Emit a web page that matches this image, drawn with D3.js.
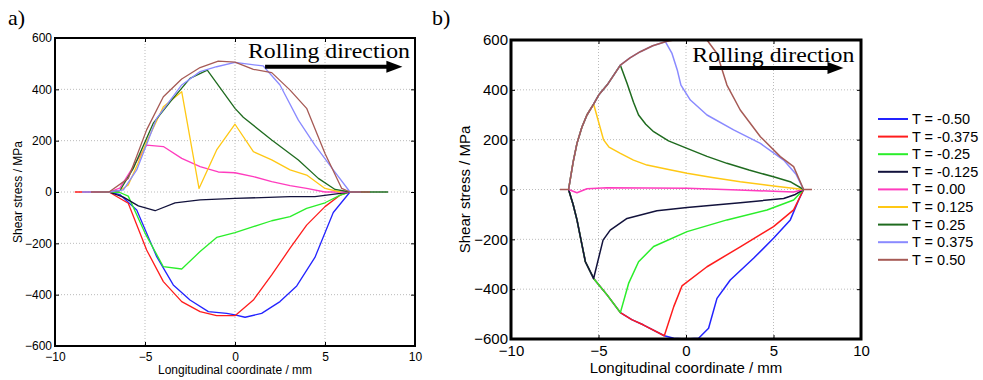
<!DOCTYPE html>
<html>
<head>
<meta charset="utf-8">
<script src="https://cdn.jsdelivr.net/npm/d3@7"></script>
<style>
  body { margin: 0; background: #fff; }
  svg { display: block; }
  .tick text { font-family: "Liberation Sans", Arial, sans-serif; fill: #000; }
</style>
</head>
<body>
<svg id="chart" width="983" height="380"></svg>
<script>
// legend / series labels
const seriesLabels = ['T = -0.50', 'T = -0.375', 'T = -0.25', 'T = -0.125', 'T = 0.00',
                      'T = 0.125', 'T = 0.25', 'T = 0.375', 'T = 0.50'];
const xTicks = [-10, -5, 0, 5, 10];
const yTicks = [-600, -400, -200, 0, 200, 400, 600];

// panel a) [longitudinal coordinate mm, shear stress MPa]
const aM050 = [[-7, 0], [-6.4, -10], [-5.46, -70], [-4.35, -252], [-3.43, -362], [-2.5, -421], [-1.48, -466],
  [-0.46, -473], [0, -479], [0.56, -488], [1.48, -473], [2.5, -427], [3.43, -366], [4.44, -255],
  [5.46, -80], [6.39, 0], [7.0, 0]];
const aM0375 = [[-8.9, 0], [-7, 0], [-5.93, -44], [-4.91, -226], [-3.98, -349], [-2.96, -427], [-1.94, -466],
  [-1.02, -482], [0, -482], [1.02, -421], [2.04, -323], [3.06, -219], [3.98, -129], [5.0, -57],
  [5.85, -12], [6.39, 0]];
const aM025 = [[-7.5, 0], [-7, 0], [-6.4, -2], [-5.93, -16], [-5.0, -160], [-3.98, -291], [-2.96, -300],
  [-1.94, -232], [-1.02, -177], [0, -158], [1.02, -135], [2.04, -112], [3.06, -96], [3.98, -64],
  [5.0, -42], [5.85, -12], [6.39, 0]];
const aM0125 = [[-7, 0], [-6.2, -20], [-5.37, -54], [-4.44, -73], [-3.33, -42], [-1.94, -31], [0, -25],
  [3.06, -18], [4.44, -18], [5.85, -5], [6.39, 0]];
const aP000 = [[-7, 0], [-6.4, 15], [-5.65, 99], [-4.91, 183], [-3.98, 177], [-2.96, 131], [-1.94, 99],
  [-0.93, 78], [0, 75], [1.02, 60], [2.04, 40], [3.06, 25], [3.98, 14], [5.0, 0], [6.39, 0]];
const aP0125 = [[-7, 0], [-6.4, 5], [-5.93, 27], [-5.4, 110], [-4.91, 195], [-3.98, 332], [-2.96, 391],
  [-2.0, 14], [-1.02, 164], [0, 264], [1.02, 157], [2.04, 125], [3.06, 86], [3.98, 66],
  [5.0, 14], [5.85, 0]];
const aP025 = [[-7, 0], [-6.4, 5], [-5.65, 92], [-4.54, 268], [-3.52, 358], [-2.5, 443], [-1.54, 475],
  [0, 326], [0.46, 291], [2.04, 203], [3.52, 125], [4.63, 53], [5.56, 10], [6.39, 0], [8.5, 0]];
const aP0375 = [[-8.5, 0], [-7, 0], [-6.2, 8], [-5.46, 86], [-4.35, 287], [-2.96, 417], [-1.94, 469],
  [-1.02, 488], [0, 505], [1.57, 491], [2.5, 417], [3.52, 280], [4.44, 183], [5.46, 86],
  [6.39, 0], [7.0, 0]];
const aP050 = [[-8.0, 0], [-7, 0], [-5.93, 53], [-4.91, 242], [-3.98, 371], [-2.96, 440], [-1.94, 485],
  [-0.93, 510], [0, 506], [1.02, 478], [2.04, 465], [3.06, 397], [3.98, 326], [5.0, 150],
  [5.93, 14], [6.39, 0], [7.5, 0]];

// panel b)
const bM050 = [[-6.71, 0], [-6.45, -60], [-6.23, -122], [-5.75, -290], [-5.28, -357], [-4.51, -423],
  [-3.75, -494], [-3.1, -522], [-2.42, -544], [-1.24, -587], [-0.7, -597], [0, -600], [0.72, -597],
  [1.29, -557], [1.77, -437], [2.53, -363], [3.86, -276], [5.0, -196], [5.96, -122], [6.44, -42], [6.72, 0]];
const bM0375 = [[-6.71, 0], [-6.45, -60], [-6.23, -122], [-5.75, -290], [-5.28, -357], [-4.51, -423],
  [-3.75, -494], [-3.1, -522], [-2.42, -544], [-1.24, -587], [-0.7, -470], [-0.23, -387], [1.2, -310],
  [3.1, -230], [5.0, -149], [6.15, -82], [6.72, 0]];
const bM025 = [[-6.71, 0], [-6.45, -60], [-6.23, -122], [-5.75, -290], [-5.28, -357], [-4.51, -423],
  [-3.75, -494], [-3.28, -377], [-2.71, -290], [-1.85, -229], [0.06, -169], [2.34, -122], [4.63, -82],
  [6.15, -42], [6.72, 0]];
const bM0125 = [[-6.71, 0], [-6.45, -60], [-6.23, -122], [-5.75, -290], [-5.28, -357], [-4.74, -203],
  [-4.33, -163], [-3.37, -116], [-1.66, -85], [0.06, -72], [3.1, -53], [5.58, -36], [6.25, -20], [6.72, 0]];
const bP000 = [[-6.71, 0], [-6.23, -13], [-5.66, 3], [-4.52, 7], [0.06, 5], [3.0, -2], [5.0, -7],
  [6.15, -10], [6.72, 0]];
const bP0125 = [[-6.71, 0], [-6.45, 110], [-6.23, 185], [-5.95, 250], [-5.66, 299], [-5.28, 343],
  [-4.71, 199], [-4.4, 170], [-3.75, 145], [-3.0, 118], [-2.23, 98], [-1.0, 80], [0.06, 65], [1.5, 48],
  [3.1, 31], [5.0, 14], [6.72, 0]];
const bP025 = [[-6.71, 0], [-6.45, 110], [-6.23, 185], [-5.95, 250], [-5.66, 299], [-5.28, 343],
  [-4.99, 379], [-4.5, 420], [-3.75, 499], [-3.37, 426], [-3.0, 350], [-2.71, 299], [-2.3, 262],
  [-1.85, 232], [-1.0, 195], [0.06, 165], [1.2, 133], [2.34, 105], [3.6, 78], [5.0, 51], [6.0, 30], [6.72, 0]];
const bP0375 = [[-6.71, 0], [-6.45, 110], [-6.23, 185], [-5.95, 250], [-5.66, 299], [-5.28, 343],
  [-4.99, 379], [-4.5, 420], [-3.75, 499], [-3.2, 528], [-2.61, 553], [-1.9, 577], [-1.18, 593],
  [-0.8, 546], [-0.5, 480], [-0.29, 419], [0.25, 359], [1.2, 299], [2.72, 239], [4.25, 185],
  [5.58, 118], [6.3, 60], [6.72, 0]];
const bP050 = [[-7.2, 0], [-6.71, 0], [-6.45, 110], [-6.23, 185], [-5.95, 250], [-5.66, 299], [-5.28, 343],
  [-4.99, 379], [-4.5, 420], [-3.75, 499], [-3.2, 528], [-2.61, 553], [-1.9, 577], [-1.18, 593],
  [-0.7, 600], [1.2, 600], [1.77, 546], [2.34, 419], [3.1, 319], [4.25, 212], [5.39, 132],
  [6.15, 92], [6.72, 0], [7.2, 0]];

const panelA = [aM050, aM0375, aM025, aM0125, aP000, aP0125, aP025, aP0375, aP050];
const panelB = [bM050, bM0375, bM025, bM0125, bP000, bP0125, bP025, bP0375, bP050];

const colors = ['#2323ff', '#ff1c1c', '#2aee2a', '#12123c', '#ff3cbe', '#ffc814', '#1f6b1f', '#8a8aff', '#a65a55'];

const svg = d3.select('#chart');

function drawPanel(id, series, box, font, lineW, borderW) {
    const x = d3.scaleLinear().domain([-10, 10]).range([box.left, box.right]);
    const y = d3.scaleLinear().domain([-600, 600]).range([box.bottom, box.top]);
    const g = svg.append('g');

    g.append('clipPath').attr('id', 'clip-' + id)
        .append('rect')
        .attr('x', box.left).attr('y', box.top)
        .attr('width', box.right - box.left).attr('height', box.bottom - box.top);

    // grid
    g.selectAll('.gx').data(xTicks.slice(1, -1)).enter().append('line')
        .attr('x1', d => x(d)).attr('x2', d => x(d))
        .attr('y1', box.top).attr('y2', box.bottom)
        .attr('stroke', '#aaa').attr('stroke-width', 0.8).attr('stroke-dasharray', '1,2');
    g.selectAll('.gy').data(yTicks.slice(1, -1)).enter().append('line')
        .attr('y1', d => y(d)).attr('y2', d => y(d))
        .attr('x1', box.left).attr('x2', box.right)
        .attr('stroke', '#aaa').attr('stroke-width', 0.8).attr('stroke-dasharray', '1,2');

    // lines
    const line = d3.line().x(d => x(d[0])).y(d => y(d[1]));
    g.append('g').attr('clip-path', `url(#clip-${id})`)
        .selectAll('path').data(series).enter().append('path')
        .attr('d', line)
        .attr('fill', 'none')
        .attr('stroke', (d, i) => colors[i])
        .attr('stroke-width', lineW)
        .attr('stroke-linejoin', 'round');

    // axes (ticks inward)
    const tk = 4;
    g.append('g').attr('transform', `translate(0,${box.bottom})`)
        .call(d3.axisBottom(x).tickValues(xTicks).tickSize(-tk).tickPadding(tk + 2))
        .call(s => s.select('.domain').remove())
        .call(s => s.selectAll('text').style('font-size', font + 'px'));
    g.append('g').attr('transform', `translate(${box.left},0)`)
        .call(d3.axisLeft(y).tickValues(yTicks).tickSize(-tk).tickPadding(3))
        .call(s => s.select('.domain').remove())
        .call(s => s.selectAll('text').style('font-size', font + 'px'));
    g.append('g').attr('transform', `translate(0,${box.top})`)
        .call(d3.axisTop(x).tickValues(xTicks).tickSize(-tk).tickFormat(''))
        .call(s => s.select('.domain').remove());
    g.append('g').attr('transform', `translate(${box.right},0)`)
        .call(d3.axisRight(y).tickValues(yTicks).tickSize(-tk).tickFormat(''))
        .call(s => s.select('.domain').remove());

    g.append('rect')
        .attr('x', box.left).attr('y', box.top)
        .attr('width', box.right - box.left).attr('height', box.bottom - box.top)
        .attr('fill', 'none').attr('stroke', '#000').attr('stroke-width', borderW);

    // axis labels
    g.append('text')
        .attr('x', (box.left + box.right) / 2).attr('y', box.labelY)
        .attr('text-anchor', 'middle')
        .style('font-family', '"Liberation Sans", Arial, sans-serif')
        .style('font-size', font + 'px')
        .text('Longitudinal coordinate / mm');
    g.append('text')
        .attr('transform', `translate(${box.yLabelX},${y(0)}) rotate(-90)`)
        .attr('text-anchor', 'middle')
        .style('font-family', '"Liberation Sans", Arial, sans-serif')
        .style('font-size', font + 'px')
        .text('Shear stress / MPa');

    // panel letter
    g.append('text')
        .attr('x', box.letterX).attr('y', 25)
        .style('font-family', '"Liberation Serif", "Times New Roman", serif')
        .style('font-size', '22px')
        .text(id + ')');

    // rolling direction annotation
    g.append('text')
        .attr('x', x(box.textX)).attr('y', y(box.textY))
        .attr('textLength', 162).attr('lengthAdjust', 'spacingAndGlyphs')
        .style('font-family', '"Liberation Serif", "Times New Roman", serif')
        .style('font-size', '22px')
        .text('Rolling direction');
    const ay = y(488);
    const ax1 = x(box.arrowFrom), ax2 = x(box.arrowTo);
    g.append('line')
        .attr('x1', ax1).attr('x2', ax2 - 10).attr('y1', ay).attr('y2', ay)
        .attr('stroke', '#000').attr('stroke-width', 4);
    g.append('path')
        .attr('d', `M${ax2},${ay} L${ax2 - 16},${ay - 6} L${ax2 - 16},${ay + 6} Z`)
        .attr('fill', '#000');
}

drawPanel('a', panelA,
    { left: 55, right: 415, top: 38, bottom: 346, labelY: 374, yLabelX: 22, letterX: 8,
      textX: 0.72, textY: 522, arrowFrom: 1.67, arrowTo: 9.3 },
    12, 1.3, 2);
drawPanel('b', panelB,
    { left: 511, right: 861, top: 40, bottom: 339, labelY: 373, yLabelX: 470, letterX: 432,
      textX: 0.36, textY: 512, arrowFrom: 1.33, arrowTo: 9.0 },
    15, 1.5, 3);

// legend
const legend = svg.append('g');
const rows = legend.selectAll('g').data(seriesLabels).enter().append('g')
    .attr('transform', (d, i) => `translate(878,${119 + i * 17.6})`);
rows.append('line')
    .attr('x1', 0).attr('x2', 30)
    .attr('stroke', (d, i) => colors[i]).attr('stroke-width', 2);
rows.append('text')
    .attr('x', 34).attr('dy', '0.35em')
    .style('font-family', '"Liberation Sans", Arial, sans-serif')
    .style('font-size', '14.5px')
    .text(d => d);
</script>
</body>
</html>
